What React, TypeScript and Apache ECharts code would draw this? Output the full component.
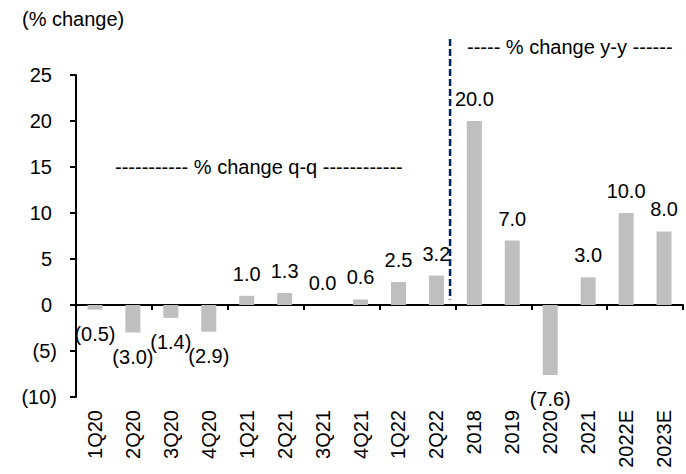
import React, { useEffect, useRef } from "react";
import * as echarts from "echarts";

const categories = ["1Q20", "2Q20", "3Q20", "4Q20", "1Q21", "2Q21", "3Q21", "4Q21", "1Q22", "2Q22", "2018", "2019", "2020", "2021", "2022E", "2023E"];
const values = [-0.5, -3.0, -1.4, -2.9, 1.0, 1.3, 0.0, 0.6, 2.5, 3.2, 20.0, 7.0, -7.6, 3.0, 10.0, 8.0];
const dividerX = [9.86, 9.86];
const dividerY = [28.9, 0.6];
const yTicks = { min: -10, max: 25, interval: 5 };
const unitLabel = "(% change)";
const qqLabel = "----------- % change q-q ------------";
const yyLabel = "----- % change y-y ------";

const FONT = "'Liberation Sans', Arial, sans-serif";
const FS = 20;

export default function App() {
  const ref = useRef<HTMLDivElement>(null);
  useEffect(() => {
    document.body.style.margin = "0";
    const chart = echarts.init(ref.current!, null, { renderer: "svg" });
    const fmt = (v: number) => (v < 0 ? `(${Math.abs(v).toFixed(1)})` : v.toFixed(1));
    chart.setOption({
      animation: false,
      textStyle: { fontFamily: FONT },
      grid: { left: 76, right: 3, top: 75, bottom: 77, containLabel: false },
      xAxis: [
        {
          type: "category",
          data: categories,
          position: "bottom",
          axisLine: { onZero: true, lineStyle: { color: "#000", width: 2 } },
          axisTick: { show: true, length: 5, lineStyle: { color: "#000", width: 2 } },
          axisLabel: { show: false },
          splitLine: { show: false },
        },
        {
          type: "category",
          data: categories,
          position: "bottom",
          axisLine: { show: false, onZero: false },
          axisTick: { show: false },
          axisLabel: { rotate: 90, margin: 13, fontSize: FS, color: "#000", fontFamily: FONT },
          splitLine: { show: false },
        },
        { type: "value", min: 0, max: 16, show: false },
      ],
      yAxis: {
        type: "value",
        min: yTicks.min,
        max: yTicks.max,
        interval: yTicks.interval,
        axisLine: { show: true, onZero: false, lineStyle: { color: "#000", width: 2 } },
        axisTick: { show: true, length: 6, lineStyle: { color: "#000", width: 2 } },
        splitLine: { show: false },
        axisLabel: {
          margin: 19,
          fontSize: FS,
          color: "#000",
          fontFamily: FONT,
          formatter: (v: number) => (v < 0 ? `(${-v})` : `{p|${v}}`),
          rich: { p: { padding: [0, 5, 0, 0], fontSize: FS, color: "#000", fontFamily: FONT } },
        },
      },
      series: [
        {
          type: "bar",
          xAxisIndex: 0,
          yAxisIndex: 0,
          barWidth: 15,
          itemStyle: { color: "#bfbfbf" },
          data: values.map((v) => ({
            value: v,
            label: { position: v < 0 ? "bottom" : "top", distance: v < 0 ? 14 : 12 },
          })),
          label: {
            show: true,
            fontSize: FS,
            color: "#000",
            fontFamily: FONT,
            formatter: (p: any) => fmt(p.value),
          },
        },
        {
          type: "line",
          xAxisIndex: 2,
          yAxisIndex: 0,
          clip: false,
          symbol: "none",
          lineStyle: { color: "#002060", width: 2.5, type: [7, 3] },
          data: dividerX.map((x, i) => [x, dividerY[i]]),
        },
      ],
      graphic: [
        { type: "text", left: 22, top: 9, style: { text: unitLabel, fontSize: FS, fill: "#000", fontFamily: FONT } },
        { type: "text", left: 115, top: 157, style: { text: qqLabel, fontSize: FS, fill: "#000", fontFamily: FONT } },
        { type: "text", left: 467, top: 37, style: { text: yyLabel, fontSize: FS, fill: "#000", fontFamily: FONT } },
      ],
    });
    return () => chart.dispose();
  }, []);
  return <div ref={ref} style={{ width: 686, height: 474 }} />;
}
